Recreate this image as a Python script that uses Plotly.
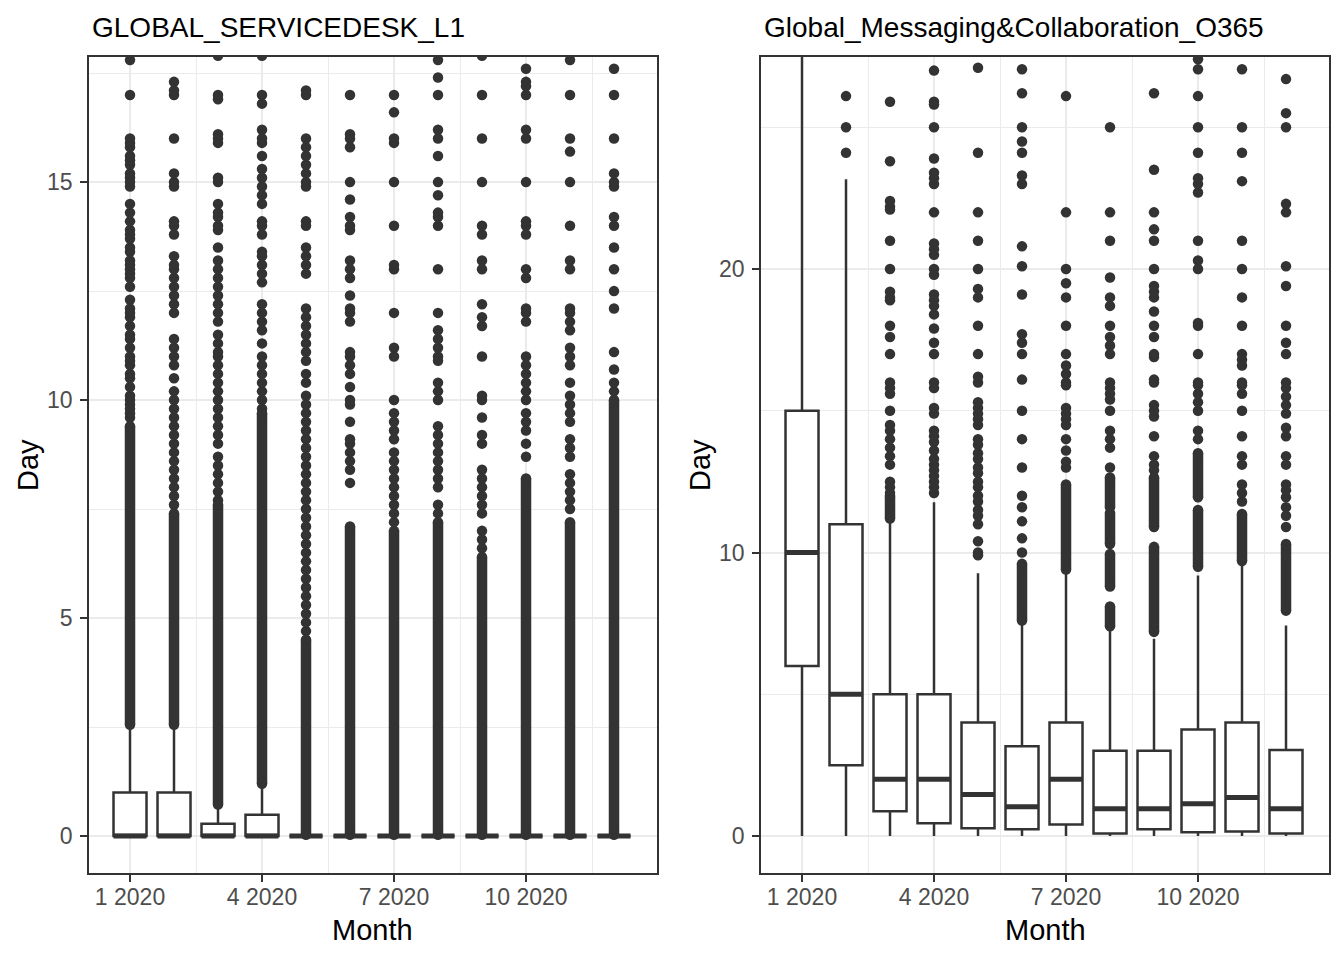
import plotly.graph_objects as go
from plotly.subplots import make_subplots

# months on the x axis
months = list(range(1, 13))
tick_months = [1, 4, 7, 10]
tick_labels = ['1 2020', '4 2020', '7 2020', '10 2020']
panel_titles = ['GLOBAL_SERVICEDESK_L1', 'Global_Messaging&Collaboration_O365']

# GLOBAL_SERVICEDESK_L1 box stats (days)
sd_low = [0, 0, 0, 0, 0, 0, 0, 0, 0, 0, 0, 0]
sd_q1 = [0, 0, 0, 0, 0, 0, 0, 0, 0, 0, 0, 0]
sd_med = [0, 0, 0, 0, 0, 0, 0, 0, 0, 0, 0, 0]
sd_q3 = [1.0, 1.0, 0.28, 0.49, 0, 0, 0, 0, 0, 0, 0, 0]
sd_high = [2.45, 2.45, 0.66, 1.15, 0, 0, 0, 0, 0, 0, 0, 0]
# runs of outliers so dense they merge into a solid bar
sd_band_month = [1, 2, 3, 4, 5, 6, 7, 8, 9, 10, 11, 12]
sd_band_lo = [2.55, 2.55, 0.72, 1.2, 0.03, 0.03, 0.03, 0.03, 0.03, 0.03, 0.03, 0.03]
sd_band_hi = [9.4, 7.4, 7.6, 9.7, 4.5, 7.1, 7.0, 7.2, 6.4, 8.2, 7.2, 10.0]
# separate outliers above the solid bars
sd_outliers = [
    [9.6, 9.7, 9.8, 9.9, 10.0, 10.1, 10.3, 10.5, 10.6, 10.8, 10.9, 11.0, 11.2, 11.4, 11.5, 11.7,
     11.9, 12.0, 12.1, 12.3, 12.6, 12.8, 12.9, 13.0, 13.1, 13.2, 13.4, 13.5, 13.7, 13.8, 13.9,
     14.1, 14.3, 14.5, 14.9, 15.0, 15.1, 15.2, 15.4, 15.5, 15.6, 15.8, 15.9, 16.0, 17.0, 17.8],
    [7.6, 7.8, 8.0, 8.2, 8.4, 8.6, 8.8, 9.0, 9.2, 9.4, 9.6, 9.8, 10.0, 10.2, 10.5, 10.8, 11.0,
     11.2, 11.4, 12.0, 12.2, 12.4, 12.6, 12.8, 13.0, 13.1, 13.3, 13.8, 14.0, 14.1, 14.9, 15.0,
     15.2, 16.0, 17.0, 17.1, 17.3],
    [7.7, 7.9, 8.1, 8.3, 8.5, 8.7, 9.0, 9.2, 9.4, 9.6, 9.8, 10.0, 10.2, 10.4, 10.6, 10.8, 11.0,
     11.1, 11.3, 11.5, 11.8, 12.0, 12.2, 12.4, 12.6, 12.8, 13.0, 13.2, 13.5, 13.9, 14.0, 14.2,
     14.3, 14.5, 15.0, 15.1, 15.9, 16.0, 16.1, 16.9, 17.0, 17.9],
    [9.8, 10.0, 10.2, 10.4, 10.6, 10.8, 11.0, 11.3, 11.6, 11.8, 12.0, 12.2, 12.7, 12.9, 13.1,
     13.3, 13.4, 13.8, 14.0, 14.1, 14.5, 14.7, 14.9, 15.1, 15.3, 15.6, 15.9, 16.0, 16.2, 16.8,
     17.0, 17.9],
    [4.7, 4.9, 5.1, 5.3, 5.5, 5.7, 5.9, 6.1, 6.3, 6.5, 6.7, 6.9, 7.1, 7.3, 7.5, 7.7, 7.9, 8.1,
     8.3, 8.5, 8.7, 8.9, 9.1, 9.3, 9.5, 9.7, 9.9, 10.1, 10.4, 10.6, 10.9, 11.1, 11.3, 11.5, 11.7,
     11.9, 12.1, 12.9, 13.1, 13.3, 13.5, 14.0, 14.1, 14.9, 15.0, 15.2, 15.4, 15.6, 15.8, 16.0,
     17.0, 17.1],
    [8.1, 8.4, 8.6, 8.8, 9.0, 9.1, 9.5, 9.9, 10.0, 10.3, 10.6, 10.8, 11.0, 11.1, 11.8, 12.0,
     12.1, 12.4, 12.8, 13.0, 13.2, 13.9, 14.0, 14.2, 14.6, 15.0, 15.8, 16.0, 16.1, 17.0],
    [7.2, 7.4, 7.6, 7.8, 8.0, 8.2, 8.4, 8.6, 8.8, 9.1, 9.3, 9.5, 9.7, 10.0, 11.0, 11.2, 12.0,
     13.0, 13.1, 14.0, 15.0, 15.9, 16.0, 16.6, 17.0],
    [7.4, 7.6, 8.0, 8.2, 8.4, 8.6, 8.8, 9.0, 9.2, 9.4, 10.0, 10.2, 10.4, 10.9, 11.0, 11.2, 11.4,
     11.6, 12.0, 13.0, 14.0, 14.2, 14.3, 14.7, 15.0, 15.6, 16.0, 16.2, 17.0, 17.4, 17.8],
    [6.6, 6.8, 7.0, 7.4, 7.6, 7.8, 8.0, 8.2, 8.4, 9.0, 9.2, 9.6, 10.0, 10.1, 11.0, 11.7, 11.9,
     12.2, 13.0, 13.2, 13.8, 14.0, 15.0, 16.0, 17.0, 17.9],
    [8.7, 9.0, 9.3, 9.5, 9.7, 10.0, 10.2, 10.4, 10.6, 10.8, 11.0, 11.8, 12.0, 12.1, 12.8, 13.0,
     13.8, 14.0, 14.1, 15.0, 16.0, 16.2, 17.0, 17.2, 17.3, 17.6],
    [7.5, 7.7, 7.9, 8.1, 8.3, 8.7, 8.9, 9.1, 9.5, 9.7, 9.9, 10.1, 10.4, 10.8, 11.0, 11.2, 11.6,
     11.8, 12.0, 12.1, 13.0, 13.2, 14.0, 15.0, 15.7, 16.0, 17.0, 17.8],
    [10.2, 10.4, 10.7, 11.1, 12.1, 12.5, 13.0, 13.5, 14.0, 14.2, 14.9, 15.0, 15.2, 16.0, 17.0,
     17.6],
]

# Global_Messaging&Collaboration_O365 box stats (days)
msg_low = [0, 0, 0, 0, 0, 0, 0, 0, 0, 0, 0, 0]
msg_q1 = [6.0, 2.5, 0.87, 0.45, 0.27, 0.24, 0.41, 0.09, 0.24, 0.13, 0.16, 0.09]
msg_med = [10.0, 5.0, 2.0, 2.0, 1.46, 1.03, 2.0, 0.96, 0.96, 1.14, 1.36, 0.96]
msg_q3 = [15.0, 11.0, 5.0, 5.0, 4.0, 3.17, 4.0, 3.01, 3.01, 3.76, 4.0, 3.03]
msg_high = [28.0, 23.17, 11.13, 11.77, 9.27, 7.49, 9.27, 7.25, 6.96, 9.19, 9.62, 7.43]
msg_band_month = [3, 6, 7, 8, 8, 8, 8, 9, 9, 10, 10, 11, 12]
msg_band_lo = [11.2, 7.6, 9.4, 7.4, 8.8, 10.3, 11.6, 7.2, 10.9, 9.5, 11.95, 9.7, 7.95]
msg_band_hi = [12.0, 9.6, 12.4, 8.1, 9.95, 11.4, 12.65, 10.2, 12.65, 11.5, 13.5, 11.36, 10.3]
msg_outliers = [
    [],
    [24.1, 25.0, 26.1],
    [12.1, 12.3, 12.5, 13.1, 13.4, 13.7, 14.0, 14.3, 14.5, 15.0, 15.6, 15.8, 16.0, 17.0, 17.6,
     18.0, 18.9, 19.0, 19.2, 20.0, 21.0, 22.1, 22.2, 22.4, 23.8, 25.9],
    [12.1, 12.3, 12.5, 12.7, 12.9, 13.1, 13.3, 13.6, 13.9, 14.1, 14.3, 14.9, 15.1, 15.8, 16.0,
     17.0, 17.4, 17.9, 18.4, 18.7, 18.9, 19.1, 19.8, 20.0, 20.5, 20.7, 20.9, 22.0, 23.0, 23.2,
     23.4, 23.9, 25.0, 25.8, 25.9, 27.0],
    [9.9, 10.0, 10.4, 11.0, 11.3, 11.5, 11.8, 12.0, 12.3, 12.5, 12.8, 13.0, 13.3, 13.5, 13.8,
     14.0, 14.5, 14.7, 14.9, 15.1, 15.3, 16.0, 16.2, 17.0, 18.0, 19.0, 19.3, 20.0, 21.0, 22.0,
     24.1, 27.1],
    [10.0, 10.5, 11.1, 11.6, 12.0, 13.0, 14.0, 15.0, 16.1, 17.0, 17.4, 17.7, 19.1, 20.1, 20.8,
     23.0, 23.3, 24.1, 24.5, 25.0, 26.2, 27.05],
    [13.0, 13.2, 13.6, 14.0, 14.5, 14.7, 14.9, 15.1, 15.9, 16.0, 16.3, 16.6, 17.0, 18.0, 19.0,
     19.5, 20.0, 22.0, 26.1],
    [13.0, 13.7, 14.0, 14.3, 15.0, 15.4, 15.6, 15.8, 16.0, 17.0, 17.3, 17.6, 18.0, 18.7, 19.0,
     19.7, 21.0, 22.0, 25.0],
    [12.9, 13.1, 13.4, 14.1, 14.8, 15.0, 15.2, 16.0, 16.1, 16.9, 17.0, 17.6, 18.0, 18.5, 19.0,
     19.2, 19.4, 20.0, 21.0, 21.4, 22.0, 23.5, 26.2],
    [14.0, 14.3, 15.0, 15.3, 15.6, 15.9, 16.0, 17.0, 18.0, 18.1, 20.0, 20.3, 21.0, 22.7, 23.0,
     23.2, 24.1, 25.0, 26.1, 27.05, 27.4],
    [11.8, 12.1, 12.4, 13.1, 13.4, 14.1, 15.0, 15.6, 15.9, 16.0, 16.6, 16.8, 17.0, 18.0, 19.0,
     20.0, 21.0, 23.1, 24.1, 25.0, 27.05],
    [10.9, 11.3, 11.6, 11.95, 12.2, 12.4, 13.1, 13.4, 14.1, 14.4, 14.9, 15.2, 15.5, 15.8, 16.0,
     17.0, 17.4, 18.0, 19.4, 20.1, 22.0, 22.3, 25.0, 25.5, 26.7],
]

ink = '#333333'
box_width = 0.75
font = 'Liberation Sans, Arial, sans-serif'

fig = make_subplots(rows=1, cols=2)

panels = [
    (sd_low, sd_q1, sd_med, sd_q3, sd_high, sd_band_month, sd_band_lo, sd_band_hi, sd_outliers),
    (msg_low, msg_q1, msg_med, msg_q3, msg_high, msg_band_month, msg_band_lo, msg_band_hi, msg_outliers),
]

for col, (low, q1, med, q3, high, bm, blo, bhi, outs) in enumerate(panels, start=1):
    # solid runs of outliers
    bx, by = [], []
    for m, lo, hi in zip(bm, blo, bhi):
        bx += [m, m, None]
        by += [lo, hi, None]
    fig.add_trace(go.Scatter(x=bx, y=by, mode='lines', line=dict(color=ink, width=10.5),
                             hoverinfo='skip', showlegend=False), row=1, col=col)
    # single outliers (plus the ends of the solid runs for round caps)
    px, py = [], []
    for m, vals in zip(months, outs):
        px += [m] * len(vals)
        py += vals
    px += bm + bm
    py += blo + bhi
    fig.add_trace(go.Scatter(x=px, y=py, mode='markers',
                             marker=dict(color=ink, size=10.5, line=dict(width=0)),
                             showlegend=False), row=1, col=col)
    # boxes
    fig.add_trace(go.Box(x=months, q1=q1, median=med, q3=q3, lowerfence=low, upperfence=high,
                         width=box_width, whiskerwidth=0, boxpoints=False,
                         fillcolor='white', line=dict(color=ink, width=2.5),
                         showlegend=False), row=1, col=col)
    # thick median bars
    mx, my = [], []
    for m, v in zip(months, med):
        mx += [m - box_width / 2, m + box_width / 2, None]
        my += [v, v, None]
    fig.add_trace(go.Scatter(x=mx, y=my, mode='lines', line=dict(color=ink, width=5),
                             hoverinfo='skip', showlegend=False), row=1, col=col)

axis_common = dict(showline=True, mirror=True, linecolor=ink, linewidth=1.6,
                   ticks='outside', ticklen=7, tickwidth=1.6, tickcolor=ink,
                   showgrid=True, gridcolor='#EBEBEB', gridwidth=2, zeroline=False,
                   tickfont=dict(family=font, size=23, color='#4D4D4D'))

# the page body adds an 8px offset, so the figure is 8px smaller than the window
OFF = 8
W, H = 1344 - OFF, 960 - OFF
x_domains = [[(89 - OFF) / W, (657 - OFF) / W], [(761 - OFF) / W, (1329 - OFF) / W]]
y_domain = [1 - (873 - OFF) / H, 1 - (57 - OFF) / H]

for i, dom in enumerate(x_domains, start=1):
    fig.update_xaxes(row=1, col=i, domain=dom, range=[0.068, 12.977],
                     tickmode='array', tickvals=tick_months, ticktext=tick_labels,
                     ticklabelstandoff=-4,
                     minor=dict(tick0=1, dtick=1.5, showgrid=True, gridcolor='#EBEBEB',
                                gridwidth=1, ticks=''),
                     **axis_common)

fig.update_yaxes(row=1, col=1, domain=y_domain, range=[-0.849, 17.87],
                 tick0=0, dtick=5, ticklabelstandoff=3,
                 minor=dict(tick0=0, dtick=2.5, showgrid=True, gridcolor='#EBEBEB',
                            gridwidth=1, ticks=''),
                 **axis_common)
fig.update_yaxes(row=1, col=2, domain=y_domain, range=[-1.305, 27.48],
                 tick0=0, dtick=10, ticklabelstandoff=3,
                 minor=dict(tick0=0, dtick=5, showgrid=True, gridcolor='#EBEBEB',
                            gridwidth=1, ticks=''),
                 **axis_common)

annotations = []
for i, dom in enumerate(x_domains):
    annotations.append(dict(text=panel_titles[i], xref='paper', yref='paper',
                            x=dom[0] + 1 / W, y=1 - (27 - OFF) / H, xanchor='left',
                            yanchor='middle', showarrow=False,
                            font=dict(family=font, size=28, color='black')))
    annotations.append(dict(text='Month', xref='paper', yref='paper',
                            x=(dom[0] + dom[1]) / 2, y=1 - (930 - OFF) / H, xanchor='center',
                            yanchor='middle', showarrow=False,
                            font=dict(family=font, size=29, color='black')))
    annotations.append(dict(text='Day', xref='paper', yref='paper', textangle=-90,
                            x=dom[0] - 61 / W, y=(y_domain[0] + y_domain[1]) / 2,
                            xanchor='center', yanchor='middle', showarrow=False,
                            font=dict(family=font, size=29, color='black')))

fig.update_layout(width=W, height=H, margin=dict(l=0, r=0, t=0, b=0),
                  paper_bgcolor='white', plot_bgcolor='white',
                  annotations=annotations, showlegend=False)

fig.write_html('out.html')
